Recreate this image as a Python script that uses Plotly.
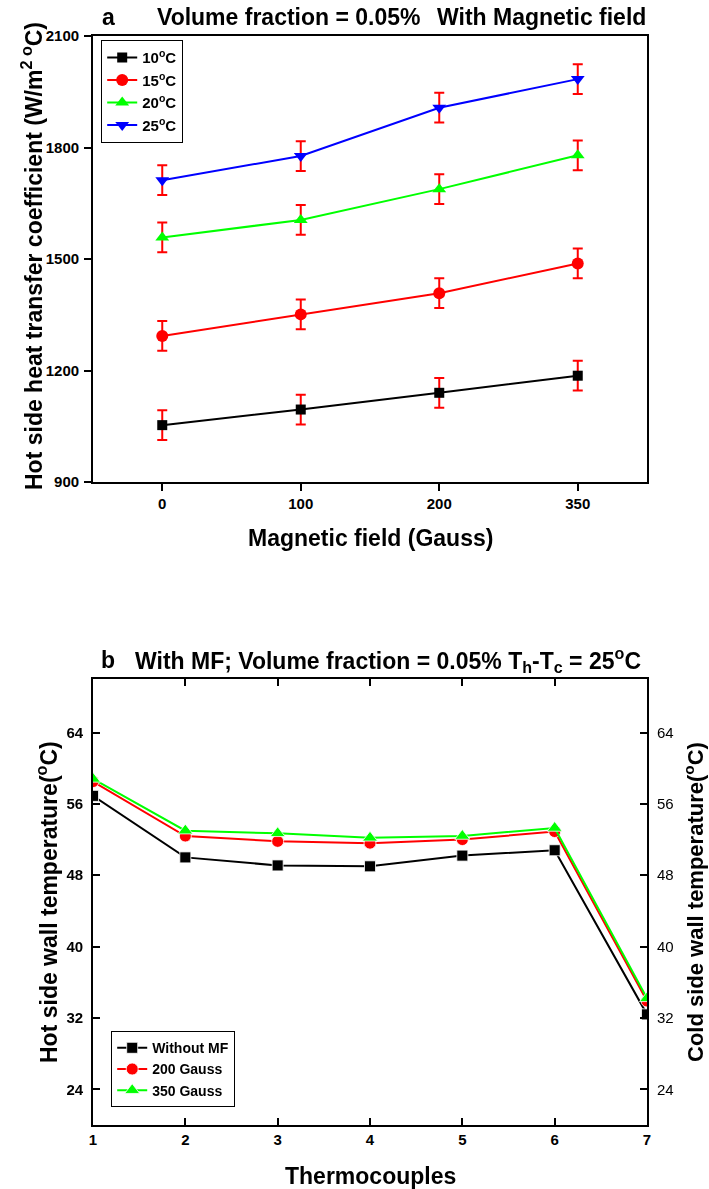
import plotly.graph_objects as go

# ---------------- data: panel a ----------------
field_labels = ["0", "100", "200", "350"]
field_pos = [0, 1, 2, 3]
htc_10 = [1053, 1095, 1140, 1186]
htc_15 = [1293, 1351, 1408, 1488]
htc_20 = [1558, 1605, 1688, 1779]
htc_25 = [1712, 1777, 1907, 1984]
htc_err = [40, 40, 40, 40]
top_yticks = [900, 1200, 1500, 1800, 2100]

# ---------------- data: panel b ----------------
thermocouples = [1, 2, 3, 4, 5, 6, 7]
t_without_mf = [56.9, 50.0, 49.1, 49.0, 50.2, 50.8, 32.4]
t_200_gauss = [58.5, 52.4, 51.8, 51.6, 52.0, 52.9, 33.9]
t_350_gauss = [58.8, 53.0, 52.7, 52.2, 52.4, 53.3, 34.2]
bot_yticks = [24, 32, 40, 48, 56, 64]

FONT = "Liberation Sans, Arial, sans-serif"

W, H = 709, 1189
ML, MR, MT, MB = 93, 62, 36, 64
PW = W - ML - MR
PH = H - MT - MB


def px(x):
    return (x - ML) / PW


def py(y):
    return (H - MB - y) / PH


top_dom = [py(482), 1.0]
bot_dom = [0.0, py(679)]

fig = go.Figure()

series_top = [
    ("10<sup>o</sup>C", htc_10, "black", "square", 10),
    ("15<sup>o</sup>C", htc_15, "#ff0000", "circle", 12),
    ("20<sup>o</sup>C", htc_20, "#00ff00", "triangle-up", 12),
    ("25<sup>o</sup>C", htc_25, "#0000ff", "triangle-down", 12),
]
for name, vals, col, sym, sz in series_top:
    fig.add_trace(go.Scatter(
        x=field_pos, y=vals, name=name, mode="lines+markers",
        line=dict(color=col, width=2),
        marker=dict(color=col, symbol=sym, size=sz),
        error_y=dict(type="data", array=htc_err, color="#ff0000", thickness=2, width=5),
        xaxis="x", yaxis="y", legend="legend",
    ))

series_bot = [
    ("Without MF", t_without_mf, "black", "square", 11),
    ("200 Gauss", t_200_gauss, "#ff0000", "circle", 12),
    ("350 Gauss", t_350_gauss, "#00ff00", "triangle-up", 13),
]
for name, vals, col, sym, sz in series_bot:
    fig.add_trace(go.Scatter(
        x=thermocouples, y=vals, name=name, mode="lines+markers",
        line=dict(color=col, width=2),
        marker=dict(color=col, symbol=sym, size=sz, line=dict(color="white", width=0.8)),
        xaxis="x2", yaxis="y2", legend="legend2",
    ))

# invisible trace to activate the right-hand axis
fig.add_trace(go.Scatter(
    x=thermocouples, y=t_without_mf, mode="markers", opacity=0,
    showlegend=False, hoverinfo="skip", xaxis="x2", yaxis="y3",
))

axis_common = dict(showline=True, linecolor="black", linewidth=1.8, showgrid=False,
                   zeroline=False, tickcolor="black", tickwidth=1.6, ticklen=7,
                   automargin=False)

fig.update_layout(
    width=W, height=H,
    margin=dict(l=ML, r=MR, t=MT, b=MB, autoexpand=False),
    paper_bgcolor="white", plot_bgcolor="white",
    font=dict(family=FONT, color="black"),
    xaxis=dict(**axis_common, domain=[0, 1], anchor="y", range=[-0.5, 3.5],
               tickvals=field_pos, ticktext=field_labels, ticks="outside", mirror=True,
               tickfont=dict(size=15, weight="bold")),
    yaxis=dict(**axis_common, domain=top_dom, anchor="x", range=[900, 2100],
               tickvals=top_yticks, ticks="outside", mirror=True,
               tickfont=dict(size=15, weight="bold"), ticklabelstandoff=2),
    xaxis2=dict(**axis_common, domain=[0, 1], anchor="y2", range=[1, 7],
                tickvals=thermocouples, ticks="inside", mirror="ticks",
                tickfont=dict(size=15, weight="bold")),
    yaxis2=dict(**axis_common, domain=bot_dom, anchor="x2", range=[20, 70],
                tickvals=bot_yticks, ticks="inside", mirror=True,
                tickfont=dict(size=15, weight="bold"), ticklabelstandoff=5),
    yaxis3=dict(**axis_common, overlaying="y2", side="right", anchor="x2", range=[20, 70],
                tickvals=bot_yticks, ticks="inside",
                tickfont=dict(size=15), ticklabelstandoff=5),
    legend=dict(x=px(101), y=py(40), xanchor="left", yanchor="top",
                bordercolor="black", borderwidth=1.2, bgcolor="white",
                font=dict(size=15, weight="bold"), tracegroupgap=0, itemwidth=30),
    legend2=dict(x=px(111), y=py(1031), xanchor="left", yanchor="top",
                 bordercolor="black", borderwidth=1.2, bgcolor="white",
                 font=dict(size=14, weight="bold"), tracegroupgap=0, itemwidth=30),
    showlegend=True,
)

title_font = dict(family=FONT, size=23, weight="bold", color="black")
ann = [
    # panel titles
    dict(text="a", x=px(100), y=py(17), xanchor="left"),
    dict(text="Volume fraction = 0.05%", x=px(155), y=py(17), xanchor="left"),
    dict(text="With Magnetic field", x=px(648), y=py(17), xanchor="right"),
    dict(text="b", x=px(99), y=py(660), xanchor="left"),
    dict(text="With MF; Volume fraction = 0.05% T<sub>h</sub>-T<sub>c</sub> = 25<sup>o</sup>C",
         x=px(643), y=py(660), xanchor="right"),
    # axis titles
    dict(text="Magnetic field (Gauss)", x=px(370), y=py(538), xanchor="center"),
    dict(text="Thermocouples", x=px(370), y=py(1176), xanchor="center"),
    dict(text="Hot side heat transfer coefficient (W/m<sup>2 o</sup>C)", x=px(32), y=py(256),
         xanchor="center", textangle=-90),
    dict(text="Hot side wall temperature(<sup>o</sup>C)", x=px(47), y=py(902),
         xanchor="center", textangle=-90),
    dict(text="Cold side wall temperature(<sup>o</sup>C)", x=px(694), y=py(902),
         xanchor="center", textangle=-90, font=dict(family=FONT, size=22, weight="bold", color="black")),
]
for a in ann:
    a.setdefault("font", title_font)
    fig.add_annotation(xref="paper", yref="paper", yanchor="middle", showarrow=False, **a)

fig.write_html("out.html")
